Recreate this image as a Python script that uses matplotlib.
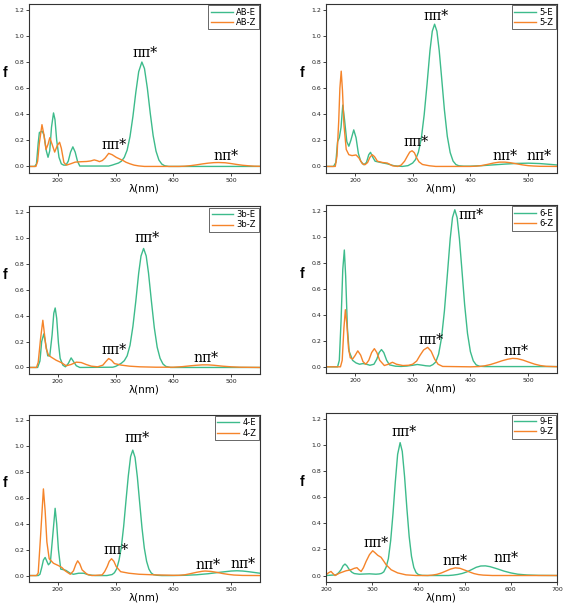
import matplotlib
matplotlib.use('Agg')
import matplotlib.pyplot as plt

# ---- data (wavelength in nm, oscillator strength f) ----
ab_e_x = [150, 160, 163, 166, 168, 173, 176, 180, 183, 186, 189, 192.5, 195, 198, 202, 206, 210, 214, 218, 222,
          226, 230, 234, 238, 288, 294, 300, 305, 310, 315, 320, 325, 330, 335, 340, 345.5, 350, 355, 360, 365,
          370, 375, 380, 385, 392, 550]
ab_e_f = [0, 0, 0.02, 0.18, 0.26, 0.27, 0.24, 0.12, 0.07, 0.12, 0.30, 0.41, 0.36, 0.20, 0.07, 0.02, 0.01, 0.01, 0.04, 0.11,
          0.15, 0.11, 0.04, 0.003, 0.003, 0.01, 0.019, 0.026, 0.04, 0.069, 0.125, 0.23, 0.383, 0.567, 0.726, 0.80, 0.75, 0.599, 0.408, 0.237,
          0.117, 0.049, 0.018, 0.005, 0.0, 0.0]
ab_z_x = [150, 162, 165, 168, 172.5, 176, 179.5, 183, 186, 190, 194.5, 199, 203, 206, 210.5, 215, 222, 230, 240, 250,
          257, 263, 268, 272, 277, 282, 288, 294, 301, 308, 313, 318, 325, 332, 340, 350, 410, 420, 430, 440,
          450, 460, 470, 478, 490, 500, 510, 520, 530, 540, 550]
ab_z_f = [0, 0, 0.04, 0.18, 0.32, 0.24, 0.13, 0.17, 0.22, 0.17, 0.11, 0.16, 0.185, 0.14, 0.03, 0.01, 0.02, 0.033, 0.036, 0.038,
          0.042, 0.05, 0.044, 0.037, 0.045, 0.065, 0.10, 0.09, 0.07, 0.055, 0.045, 0.032, 0.02, 0.01, 0.004, 0, 0, 0.002, 0.006, 0.012,
          0.019, 0.025, 0.029, 0.03, 0.028, 0.022, 0.015, 0.009, 0.005, 0.002, 0.001]

c5_e_x = [150, 163, 167, 170, 173, 176, 179, 182, 186, 189.5, 193, 198, 202, 206, 210, 215.5, 220, 224, 227, 231,
          235, 245, 256, 268, 282, 292, 300, 305, 310, 315, 320, 325, 330, 334, 338, 342, 346, 350, 355, 360,
          365, 370, 375, 380, 388, 400, 420, 440, 460, 480, 500, 520, 540, 550]
c5_e_f = [0, 0, 0.03, 0.19, 0.22, 0.30, 0.47, 0.36, 0.19, 0.155, 0.2, 0.28, 0.22, 0.1, 0.04, 0.013, 0.03, 0.09, 0.108, 0.07,
          0.04, 0.03, 0.02, 0.005, 0.0, 0.006, 0.026, 0.053, 0.109, 0.215, 0.397, 0.634, 0.888, 1.036, 1.09, 1.036, 0.888, 0.688, 0.433, 0.231,
          0.106, 0.041, 0.014, 0.005, 0.002, 0.002, 0.006, 0.012, 0.018, 0.023, 0.025, 0.022, 0.015, 0.011]
c5_z_x = [150, 166, 169, 172, 174, 176.3, 178.5, 181, 185, 189.5, 195, 202, 207, 213, 217.4, 222, 226, 230, 234, 239,
          248, 256, 265, 274, 280, 286, 291, 295, 299, 303, 307, 311, 317, 329, 340, 400, 410, 420, 430, 440,
          450, 460, 470, 480, 490, 500, 510, 520, 550]
c5_z_f = [0, 0, 0.08, 0.35, 0.6, 0.73, 0.58, 0.32, 0.13, 0.09, 0.083, 0.088, 0.065, 0.02, 0.013, 0.03, 0.07, 0.09, 0.075, 0.04,
          0.03, 0.026, 0.005, 0.0, 0.01, 0.04, 0.08, 0.11, 0.12, 0.105, 0.065, 0.035, 0.015, 0.005, 0.0, 0.0, 0.002, 0.007, 0.016, 0.026,
          0.033, 0.033, 0.028, 0.02, 0.012, 0.006, 0.003, 0.001, 0.0]

c3b_e_x = [150, 165, 169, 172, 175.7, 179, 182.5, 186, 190, 193, 195.4, 198, 201, 204, 208.7, 213, 218, 223, 228, 232,
           238, 295, 300, 305, 310, 315, 320, 325, 330, 335, 340, 344, 348.5, 353, 357, 362, 367, 372, 377, 382,
           387, 395, 550]
c3b_e_f = [0, 0, 0.05, 0.2, 0.26, 0.18, 0.09, 0.09, 0.25, 0.42, 0.46, 0.38, 0.19, 0.07, 0.018, 0.005, 0.03, 0.074, 0.04, 0.013,
           0.0, 0.002, 0.008, 0.02, 0.033, 0.052, 0.09, 0.172, 0.318, 0.513, 0.73, 0.862, 0.92, 0.862, 0.73, 0.513, 0.308, 0.157, 0.071, 0.027,
           0.008, 0.0, 0.0]
c3b_z_x = [150, 163, 166, 170, 174, 179.8, 183.8, 188.4, 197, 205.8, 214.5, 223, 232, 240.5, 249, 258, 269, 278, 283, 288,
           293, 298, 310, 324, 342, 370, 400, 415, 430, 440, 450, 460, 470, 485, 500, 515, 550]
c3b_z_f = [0, 0, 0.04, 0.22, 0.365, 0.146, 0.095, 0.08, 0.056, 0.038, 0.013, 0.023, 0.041, 0.038, 0.023, 0.01, 0.005, 0.018, 0.045, 0.069,
           0.055, 0.03, 0.018, 0.01, 0.005, 0.002, 0.002, 0.006, 0.013, 0.017, 0.02, 0.02, 0.017, 0.01, 0.005, 0.002, 0.0]

c6_e_x = [150, 170, 173, 176, 179, 181.7, 184, 187, 190, 196, 202, 208, 214, 220, 226, 233, 238, 242, 246, 250,
          255, 260, 270, 280, 290, 300, 308, 316, 323, 330, 335, 340, 345, 350, 355, 360, 365, 369, 373, 377,
          381, 385, 390, 395, 400, 405, 410, 416, 425, 440, 550]
c6_e_f = [0, 0, 0.05, 0.35, 0.75, 0.90, 0.7, 0.3, 0.12, 0.05, 0.03, 0.02, 0.025, 0.02, 0.012, 0.02, 0.06, 0.11, 0.133, 0.11,
          0.05, 0.015, 0.005, 0.003, 0.006, 0.012, 0.018, 0.013, 0.008, 0.006, 0.017, 0.037, 0.098, 0.223, 0.43, 0.704, 0.986, 1.15, 1.21, 1.15,
          0.986, 0.764, 0.48, 0.257, 0.117, 0.046, 0.015, 0.004, 0.002, 0.002, 0.002]
c6_z_x = [150, 175, 178, 181, 183.5, 186, 189, 192, 196, 200, 205, 210, 214, 219, 224, 229, 233.7, 238, 243, 251,
          258, 265, 272, 283, 293, 300, 307, 313, 319, 326, 332, 338, 344, 352, 400, 415, 425, 435, 445, 455,
          465, 473, 481, 491, 501, 511, 521, 531, 550]
c6_z_f = [0, 0, 0.05, 0.3, 0.44, 0.33, 0.14, 0.07, 0.06, 0.085, 0.123, 0.09, 0.04, 0.02, 0.05, 0.11, 0.14, 0.11, 0.05, 0.01,
          0.02, 0.035, 0.02, 0.01, 0.012, 0.02, 0.045, 0.09, 0.13, 0.15, 0.12, 0.06, 0.02, 0.003, 0.0, 0.002, 0.008, 0.018, 0.032, 0.047,
          0.059, 0.065, 0.063, 0.052, 0.036, 0.021, 0.01, 0.004, 0.001]

c4_e_x = [150, 166, 169, 172, 175, 178, 181, 183.7, 187, 191, 195.3, 198, 201, 205, 210, 214, 221.5, 227, 236, 245,
          253.5, 265, 285, 294, 298, 302, 306, 310, 314, 318, 322, 326, 329.7, 333.7, 337.7, 341.7, 345.7, 349.7, 353.7, 357.7,
          361.7, 365.7, 372, 380, 400, 420, 440, 460, 480, 500, 510, 520, 530, 540, 550]
c4_e_f = [0, 0, 0.01, 0.06, 0.12, 0.14, 0.11, 0.083, 0.1, 0.3, 0.52, 0.4, 0.2, 0.05, 0.045, 0.04, 0.018, 0.01, 0.018, 0.018,
          0.005, 0.0, 0.0, 0.008, 0.022, 0.053, 0.12, 0.222, 0.382, 0.58, 0.77, 0.92, 0.97, 0.913, 0.761, 0.563, 0.369, 0.213, 0.11, 0.05,
          0.02, 0.007, 0.002, 0.0, 0.0, 0.002, 0.006, 0.014, 0.025, 0.035, 0.037, 0.035, 0.03, 0.024, 0.018]
c4_z_x = [150, 163, 166, 170, 175, 178, 181, 185, 192.4, 201, 207, 212.8, 221.5, 227, 231, 234.3, 238, 242, 250.6, 259,
          276.7, 281, 285.5, 289, 293, 297, 301, 308.7, 323, 340.7, 370, 400, 410, 420, 430, 440, 450, 455, 465, 475,
          485, 495, 505, 520, 550]
c4_z_f = [0, 0, 0.02, 0.3, 0.67, 0.5, 0.26, 0.13, 0.095, 0.077, 0.062, 0.036, 0.01, 0.036, 0.085, 0.114, 0.09, 0.044, 0.01, 0.0,
          0.005, 0.03, 0.07, 0.11, 0.13, 0.11, 0.07, 0.03, 0.018, 0.01, 0.005, 0.002, 0.002, 0.006, 0.015, 0.025, 0.033, 0.035, 0.032, 0.025,
          0.016, 0.009, 0.004, 0.001, 0.0]

c9_e_x = [200, 221.7, 227, 232.5, 237, 241, 245, 250.6, 256, 261, 272, 294, 308, 315, 320, 325, 330, 335, 340, 345,
          350, 355, 360.4, 365, 370, 375, 380, 385, 390, 395, 400, 408, 420, 465, 475, 485, 495, 505, 515, 525,
          535, 545, 555, 570, 585, 600, 615, 635, 660, 700]
c9_e_f = [0, 0.005, 0.02, 0.044, 0.075, 0.088, 0.075, 0.044, 0.025, 0.015, 0.01, 0.013, 0.01, 0.012, 0.016, 0.028, 0.063, 0.13, 0.27, 0.477,
          0.72, 0.93, 1.02, 0.953, 0.76, 0.516, 0.298, 0.147, 0.062, 0.022, 0.007, 0.001, 0.0, 0.0, 0.003, 0.008, 0.016, 0.028, 0.045, 0.063,
          0.073, 0.074, 0.068, 0.052, 0.034, 0.02, 0.01, 0.004, 0.001, 0.0]
c9_z_x = [200, 205, 210.8, 215, 219.5, 229, 243, 254, 261, 267, 271, 276, 281, 286.7, 294, 301, 306, 312, 319, 325,
          330, 341, 355, 373, 395, 420, 430, 440, 450, 460, 470, 480, 490, 500, 510, 520, 530, 540, 560, 700]
c9_z_f = [0.005, 0.02, 0.031, 0.015, 0.0, 0.018, 0.036, 0.044, 0.055, 0.06, 0.045, 0.031, 0.06, 0.108, 0.16, 0.19, 0.175, 0.155, 0.14, 0.11,
          0.083, 0.044, 0.02, 0.005, 0.0, 0.0, 0.003, 0.009, 0.02, 0.035, 0.05, 0.059, 0.055, 0.042, 0.028, 0.015, 0.007, 0.003, 0.0, 0.0]

# band labels: (text, wavelength, f)
ab_notes = [('ππ*', 351, 0.87), ('ππ*', 297, 0.165), ('nπ*', 491, 0.08)]
c5_notes = [('ππ*', 340, 1.15), ('ππ*', 306, 0.186), ('nπ*', 459, 0.078), ('nπ*', 518, 0.078)]
c3b_notes = [('ππ*', 355, 1.0), ('ππ*', 297, 0.134), ('nπ*', 457, 0.075)]
c6_notes = [('ππ*', 401, 1.17), ('ππ*', 332, 0.21), ('nπ*', 479, 0.12)]
c4_notes = [('ππ*', 337, 1.063), ('ππ*', 301, 0.2), ('nπ*', 460, 0.083), ('nπ*', 520, 0.088)]
c9_notes = [('ππ*', 368, 1.10), ('ππ*', 308, 0.25), ('nπ*', 480, 0.114), ('nπ*', 589, 0.134)]

GREEN = '#3dbb8b'
ORANGE = '#f5842a'

fig = plt.figure(figsize=(5.67, 6.09), dpi=100)

panels = [
    # (position, E data, Z data, names, notes, xlim, xticks)
    ([0.0511, 0.716, 0.4074, 0.2775], (ab_e_x, ab_e_f), (ab_z_x, ab_z_f), ('AB-E', 'AB-Z'), ab_notes, (150, 550), [200, 300, 400, 500]),
    ([0.575, 0.716, 0.4074, 0.2775], (c5_e_x, c5_e_f), (c5_z_x, c5_z_f), ('5-E', '5-Z'), c5_notes, (150, 550), [200, 300, 400, 500]),
    ([0.0511, 0.386, 0.4074, 0.275], (c3b_e_x, c3b_e_f), (c3b_z_x, c3b_z_f), ('3b-E', '3b-Z'), c3b_notes, (150, 550), [200, 300, 400, 500]),
    ([0.575, 0.387, 0.4074, 0.276], (c6_e_x, c6_e_f), (c6_z_x, c6_z_f), ('6-E', '6-Z'), c6_notes, (150, 550), [200, 300, 400, 500]),
    ([0.0511, 0.0443, 0.4074, 0.275], (c4_e_x, c4_e_f), (c4_z_x, c4_z_f), ('4-E', '4-Z'), c4_notes, (150, 550), [200, 300, 400, 500]),
    ([0.575, 0.0443, 0.4074, 0.277], (c9_e_x, c9_e_f), (c9_z_x, c9_z_f), ('9-E', '9-Z'), c9_notes, (200, 700), [200, 300, 400, 500, 600, 700]),
]

for pos, e, z, names, notes, xlim, xticks in panels:
    ax = fig.add_axes(pos)
    ax.plot(e[0], e[1], color=GREEN, lw=1.0, label=names[0])
    ax.plot(z[0], z[1], color=ORANGE, lw=1.0, label=names[1])
    ax.set_xlim(*xlim)
    ax.set_ylim(-0.05, 1.245)
    ax.set_xticks(xticks)
    ax.set_yticks([0.0, 0.2, 0.4, 0.6, 0.8, 1.0, 1.2])
    ax.set_yticklabels(['0.0', '0.2', '0.4', '0.6', '0.8', '1.0', '1.2'])
    ax.tick_params(direction='out', length=2, width=0.6, labelsize=4.5, pad=1.5, colors='#222222')
    for s in ax.spines.values():
        s.set_linewidth(0.8)
        s.set_color('#333333')
    ax.text(-0.105, 0.59, 'f', transform=ax.transAxes, fontsize=10, fontweight='bold',
            ha='center', va='center', family='Liberation Sans')
    ax.text(0.5, -0.092, 'λ(nm)', transform=ax.transAxes, fontsize=7.5,
            ha='center', va='center', family='DejaVu Sans')
    for txt, xx, yy in notes:
        ax.text(xx, yy, txt, fontsize=10, ha='center', va='center', family='DejaVu Serif')
    leg = ax.legend(loc='upper right', fontsize=6, frameon=True, fancybox=False, edgecolor='#222222',
                    handlelength=2.6, handletextpad=0.4, labelspacing=0.15, borderpad=0.3, borderaxespad=0.15)
    leg.get_frame().set_linewidth(0.6)

fig.savefig('out.png', dpi=100)
